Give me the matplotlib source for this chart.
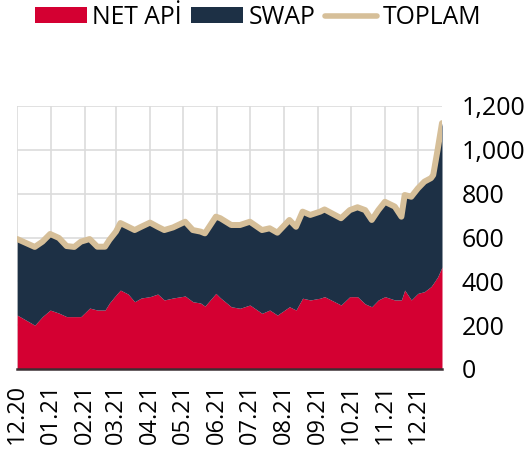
import matplotlib
matplotlib.use("Agg")
import matplotlib.pyplot as plt
from matplotlib.patches import Patch
from matplotlib.lines import Line2D
import numpy as np
import pandas as pd

plt.rcParams['font.family'] = ['Open Sans', 'DejaVu Sans']

dates = ['2020-12-01', '2020-12-17', '2020-12-24', '2020-12-31', '2021-01-08', '2021-01-15',
         '2021-01-22', '2021-01-28', '2021-02-05', '2021-02-12', '2021-02-19', '2021-02-23',
         '2021-03-01', '2021-03-05', '2021-03-12', '2021-03-18', '2021-03-24', '2021-04-01',
         '2021-04-08', '2021-04-14', '2021-04-22', '2021-05-03', '2021-05-10', '2021-05-17',
         '2021-05-21', '2021-05-31', '2021-06-04', '2021-06-14', '2021-06-22', '2021-07-01',
         '2021-07-12', '2021-07-19', '2021-07-26', '2021-08-06', '2021-08-12', '2021-08-18',
         '2021-08-25', '2021-09-03', '2021-09-07', '2021-09-22', '2021-09-30', '2021-10-07',
         '2021-10-14', '2021-10-20', '2021-10-26', '2021-11-01', '2021-11-10', '2021-11-16',
         '2021-11-19', '2021-11-25', '2021-12-01', '2021-12-07', '2021-12-13', '2021-12-15',
         '2021-12-19', '2021-12-23']

toplam = [593, 557, 581, 616, 598, 561, 557, 581, 593, 558, 558, 589, 627, 666, 649, 634,
          649, 668, 649, 634, 646, 672, 634, 627, 619, 695, 688, 657, 657, 672, 634, 642,
          622, 680, 649, 718, 703, 718, 728, 688, 725, 738, 725, 680, 725, 763, 741, 695,
          794, 786, 824, 855, 871, 885, 1000, 1122]

net_api = [246, 200, 239, 269, 255, 239, 239, 239, 278, 269, 269, 301, 338, 360, 342, 307,
           324, 330, 342, 315, 324, 333, 307, 301, 287, 345, 325, 284, 277, 292, 254, 269,
           246, 284, 269, 323, 315, 323, 330, 292, 330, 330, 297, 284, 315, 330, 315, 315,
           360, 315, 345, 353, 376, 390, 420, 465]

month_starts = ['2020-12-01', '2021-01-01', '2021-02-01', '2021-03-01', '2021-04-01',
                '2021-05-01', '2021-06-01', '2021-07-01', '2021-08-01', '2021-09-01',
                '2021-10-01', '2021-11-01', '2021-12-01']
month_labels = ['12.20', '01.21', '02.21', '03.21', '04.21', '05.21', '06.21', '07.21',
                '08.21', '09.21', '10.21', '11.21', '12.21']

y_ticks = [0, 200, 400, 600, 800, 1000, 1200]
y_labels = ['0', '200', '400', '600', '800', '1,000', '1,200']

series_names = ['NET APİ', 'SWAP', 'TOPLAM']

RED = '#D40032'
NAVY = '#1D3045'
TAN = '#D6BF99'
GRID = '#DCDCDC'

d = pd.to_datetime(dates)
tot = np.array(toplam, dtype=float)
net = np.array(net_api, dtype=float)

fig = plt.figure(figsize=(5.29, 4.55), dpi=100)
ax = fig.add_axes([17.2 / 529, 1 - 369 / 455, (442 - 17.2) / 529, 263 / 455])

ax.fill_between(d, 0, net, color=RED, lw=0, zorder=2)
ax.fill_between(d, net, tot, color=NAVY, lw=0, zorder=2)
ax.plot(d, tot, color=TAN, lw=4.3, solid_capstyle='round', solid_joinstyle='round', zorder=3)

ax.set_xlim(d[0], d[-1])
ax.set_ylim(0, 1200)

ax.set_xticks(pd.to_datetime(month_starts))
ax.set_xticklabels(month_labels, rotation=90, va='bottom', ha='center', fontsize=17)
ax.tick_params(axis='x', length=0, pad=54)

ax.yaxis.tick_right()
ax.set_yticks(y_ticks)
ax.set_yticklabels(y_labels, fontsize=18)
ax.tick_params(axis='y', length=0, pad=14)

ax.grid(True, color=GRID, lw=1.2)
ax.set_axisbelow(True)
for s in ['top', 'right', 'left']:
    ax.spines[s].set_visible(False)
ax.spines['bottom'].set_color('#3a2f33')
ax.spines['bottom'].set_linewidth(1.8)
ax.spines['bottom'].set_zorder(4)

handles = [Patch(facecolor=RED, edgecolor='none'),
           Patch(facecolor=NAVY, edgecolor='none'),
           Line2D([0], [0], color=TAN, lw=4.0, solid_capstyle='round')]
fig.legend(handles, series_names, loc='center left', bbox_to_anchor=(35 / 529, 1 - 17.5 / 455),
           ncol=3, frameon=False, fontsize=17.8, borderpad=0, borderaxespad=0,
           handlelength=2.1, handleheight=0.62, handletextpad=0.22, columnspacing=0.38)

fig.savefig('out.png', dpi=100)
